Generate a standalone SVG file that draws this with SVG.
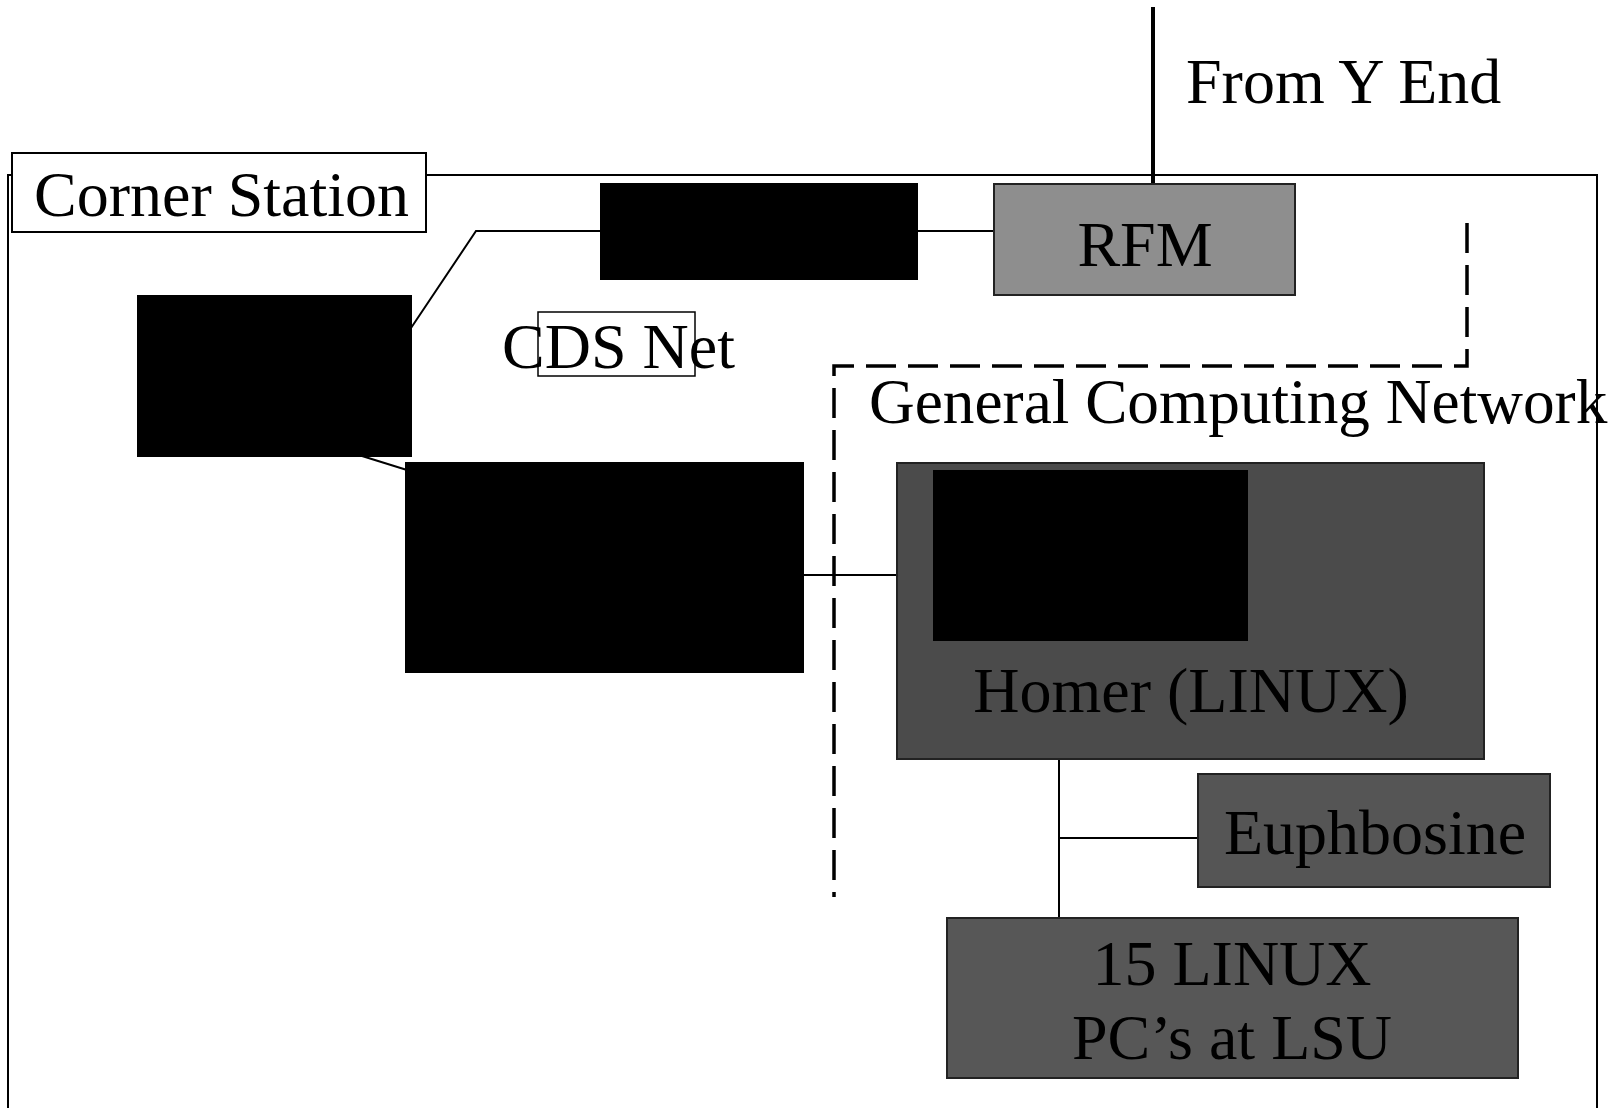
<svg xmlns="http://www.w3.org/2000/svg" width="1617" height="1108" viewBox="0 0 1617 1108">
<style>
text{font-family:"Liberation Serif","Times New Roman",serif;fill:#000;font-size:64px}
.blk{fill:#000;stroke:#000;stroke-width:2}
.gry{stroke:#222;stroke-width:2}
.ln{stroke:#000;stroke-width:2;fill:none}
.frame{fill:none;stroke:#000;stroke-width:2}
.lbl{fill:#fff;stroke:#000;stroke-width:2}
</style>
<rect x="0" y="0" width="1617" height="1108" fill="#fff"/>
<g id="corner-station">
<rect class="frame" x="8" y="175" width="1589" height="960"/>
<rect class="lbl" x="12" y="153" width="414" height="79"/>
<text x="34" y="216">Corner Station</text>
</g>
<g id="connectors">
<line x1="1153" y1="7" x2="1153" y2="184" stroke="#000" stroke-width="4"/>
<polyline class="ln" points="411,328 476,231 601,231"/>
<line class="ln" x1="917" y1="231" x2="994" y2="231"/>
<line class="ln" x1="362" y1="456" x2="407" y2="470"/>
<line class="ln" x1="803" y1="575" x2="897" y2="575"/>
<line class="ln" x1="1059" y1="759" x2="1059" y2="918"/>
<line class="ln" x1="1059" y1="838" x2="1198" y2="838"/>
<polyline points="1467,223 1467,366 834,366 834,897" fill="none" stroke="#000" stroke-width="3.5" stroke-dasharray="30 12"/>
</g>
<g id="from-y-end"><text x="1186" y="103">From Y End</text></g>
<g id="node-top-black"><rect class="blk" x="601" y="184" width="316" height="95"/></g>
<g id="node-rfm"><rect class="gry" x="994" y="184" width="301" height="111" fill="#8e8e8e"/><text x="1145" y="266" text-anchor="middle">RFM</text></g>
<g id="node-left-black"><rect class="blk" x="138" y="296" width="273" height="160"/></g>
<g id="cds-net"><rect x="538" y="312" width="157" height="64" fill="none" stroke="#000" stroke-width="1.5"/><text x="502" y="368">CDS Net</text></g>
<g id="gcn-label"><text x="869" y="423" style="font-size:63.3px">General Computing Network</text></g>
<g id="node-center-black"><rect class="blk" x="406" y="463" width="397" height="209"/></g>
<g id="node-homer"><rect class="gry" x="897" y="463" width="587" height="296" fill="#4b4b4b"/><rect x="933" y="470" width="315" height="171" fill="#000"/><text x="1191" y="712" text-anchor="middle">Homer (LINUX)</text></g>
<g id="node-euphbosine"><rect class="gry" x="1198" y="774" width="352" height="113" fill="#555"/><text x="1375" y="854" text-anchor="middle">Euphbosine</text></g>
<g id="node-linux-pcs"><rect class="gry" x="947" y="918" width="571" height="160" fill="#575757"/><text x="1232" y="985" text-anchor="middle">15 LINUX</text><text x="1232" y="1059" text-anchor="middle">PC’s at LSU</text></g>
</svg>
